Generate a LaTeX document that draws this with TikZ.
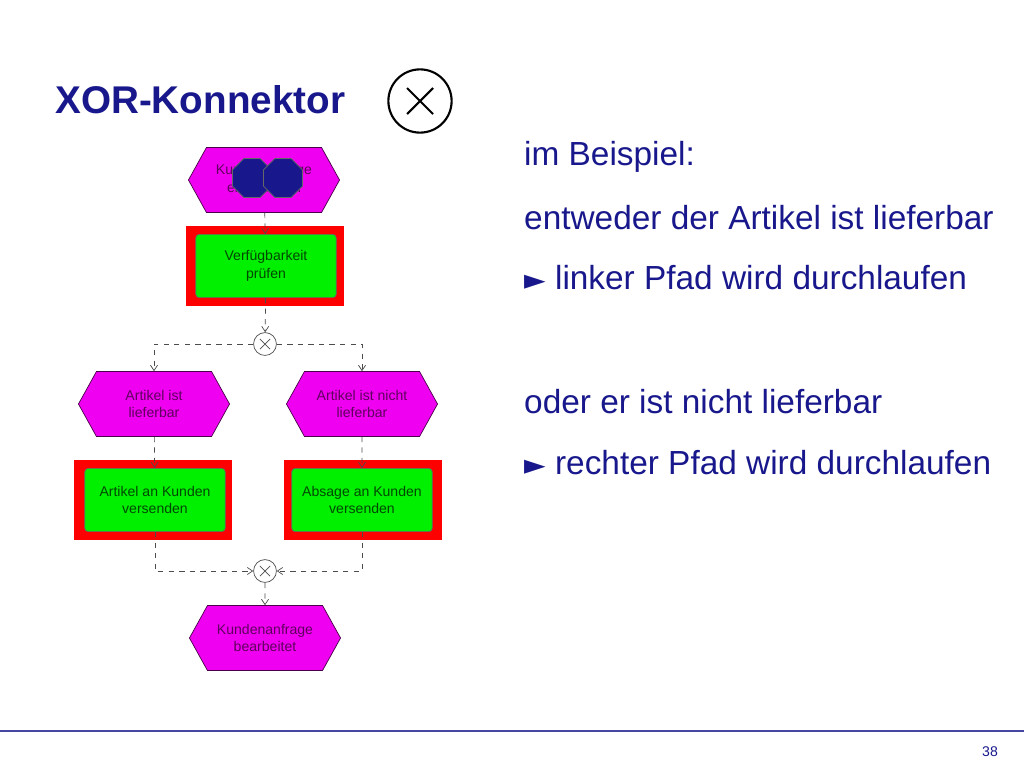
\documentclass[tikz,border=0pt]{standalone}
\usepackage{fontspec}
\setmainfont{Liberation Sans}
\usetikzlibrary{shapes.symbols,shapes.geometric,arrows.meta}
\definecolor{slideblue}{RGB}{24,24,140}
\definecolor{evmag}{RGB}{240,0,240}
\definecolor{fngreen}{RGB}{0,240,0}
\tikzset{
  event/.style={signal, signal to=west and east, signal pointer angle=122,
    fill=evmag, draw=black!70!evmag, minimum width=86pt, minimum height=37pt,
    inner sep=0pt, align=center, font=\fontsize{8}{10}\selectfont, text=black!60!evmag},
  func/.style={rectangle, rounded corners=2pt, fill=fngreen, draw=black!60,
    minimum width=80pt, minimum height=36pt, inner sep=0pt, align=center,
    font=\fontsize{8}{10}\selectfont, text=black!70!fngreen},
  frame/.style={rectangle, fill=red, minimum width=90pt, minimum height=45pt},
  xor/.style={circle, draw=black!70, fill=white, minimum size=13pt, inner sep=0pt,
    path picture={\draw[black!70] (path picture bounding box.north west)++(3.6pt,-3.6pt) -- ++(5.8pt,-5.8pt)
      (path picture bounding box.north east)++(-3.6pt,-3.6pt) -- ++(-5.8pt,-5.8pt);}},
  flow/.style={dashed, draw=black!70, -{Straight Barb[length=3pt,width=4pt]}},
  txt/.style={anchor=west, font=\fontsize{19}{23}\selectfont, text=slideblue}
}
\begin{document}
\begin{tikzpicture}[x=0.02cm,y=-0.02cm]
  \useasboundingbox (0,0) rectangle (1024,768);
  % title
  \node[anchor=west, inner sep=0pt, font=\bfseries\fontsize{22}{26}\selectfont, text=slideblue] (title) at (55,100) {XOR-Konnektor};
  \node[circle, draw, line width=1.2pt, minimum size=36pt, inner sep=0pt] (xsym) at (420,101) {};
  \draw[line width=1.2pt] (xsym.center) ++(-13,-13) -- ++(26,26) (xsym.center) ++(13,-13) -- ++(-26,26);
  % diagram
  \node[event] (e0) at (264,180) {Kundenanfrage\\eingetroffen};
  \foreach \x in {252,283}
    \node[regular polygon, regular polygon sides=8, fill=slideblue, draw=black!60, minimum size=24pt, inner sep=0pt] at (\x,178) {};
  \node[frame] at (265,266) {};
  \node[func] (f1) at (266,266) {Verfügbarkeit\\prüfen};
  \node[xor] (x1) at (265,344) {};
  \node[event] (e1) at (154,404) {Artikel ist\\lieferbar};
  \node[event] (e2) at (362,404) {Artikel ist nicht\\lieferbar};
  \node[frame] at (153,500) {};
  \node[func] (f2) at (155,500) {Artikel an Kunden\\versenden};
  \node[frame] at (363,500) {};
  \node[func] (f3) at (362,500) {Absage an Kunden\\versenden};
  \node[xor] (x2) at (265,571) {};
  \node[event] (e3) at (265,638) {Kundenanfrage\\bearbeitet};
  \draw[flow] (e0) -- (f1);
  \draw[flow] (f1) -- (x1);
  \draw[flow] (x1) -| (e1);
  \draw[flow] (x1) -| (e2);
  \draw[flow] (e1) -- (f2);
  \draw[flow] (e2) -- (f3);
  \draw[flow] (f2) |- (x2);
  \draw[flow] (f3) |- (x2);
  \draw[flow] (x2) -- (e3);
  % text
  \node[txt] (t1) at (518,157) {im Beispiel:};
  \node[txt] (t2) at (518,218) {entweder der Artikel ist lieferbar};
  \node[txt] (t3) at (518,278) {{\fontspec{DejaVu Sans}\fontsize{16}{23}\selectfont ►} linker Pfad wird durchlaufen};
  \node[txt] (t4) at (518,402) {oder er ist nicht lieferbar};
  \node[txt] (t5) at (518,463) {{\fontspec{DejaVu Sans}\fontsize{16}{23}\selectfont ►} rechter Pfad wird durchlaufen};
  % footer
  \draw[slideblue!80, line width=1.5pt] (0,731) -- (1024,731);
  \node[font=\fontsize{8}{10}\selectfont, text=slideblue] (pg) at (990,752) {38};
\end{tikzpicture}
\end{document}
